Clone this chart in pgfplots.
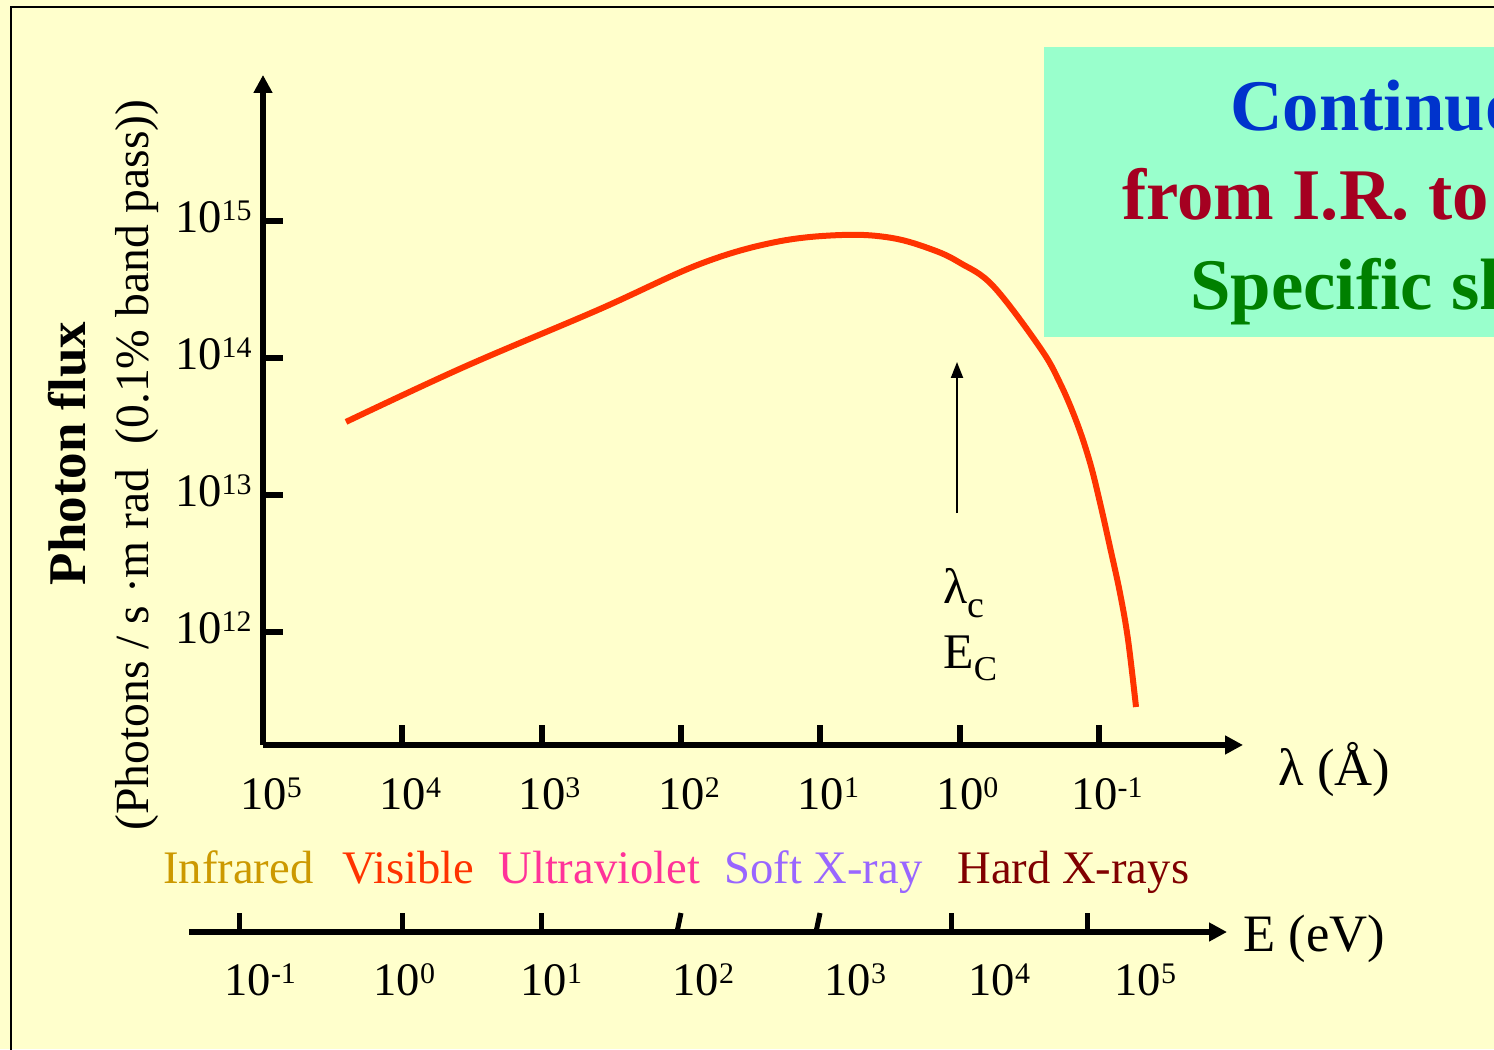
\documentclass[border=0pt]{standalone}
\usepackage{fontspec}
\setmainfont{Liberation Serif}
\usepackage{pgfplots}
\pgfplotsset{compat=1.18}
\usetikzlibrary{arrows.meta}
\definecolor{bgyellow}{HTML}{FFFFCC}
\definecolor{boxgreen}{HTML}{99FFCC}
\definecolor{curvecol}{HTML}{FF3300}
\definecolor{tblue}{HTML}{0033CC}
\definecolor{tred}{HTML}{A50021}
\definecolor{tgreen}{HTML}{008000}
\definecolor{cIR}{HTML}{CC9900}
\definecolor{cVis}{HTML}{FF3300}
\definecolor{cUV}{HTML}{FF3399}
\definecolor{cSoft}{HTML}{9966FF}
\definecolor{cHard}{HTML}{800000}
\newcommand{\supr}[1]{\raisebox{6bp}{\fontsize{15}{15}\selectfont #1}}
\newcommand{\tl}{\fontsize{23.4}{28}\selectfont}
\begin{document}
\begin{tikzpicture}[x=0.5bp,y=0.5bp]
\useasboundingbox (0,0) rectangle (1494,1049);
\clip (0,0) rectangle (1494,1049);
\fill[bgyellow] (0,0) rectangle (1494,1049);
\draw[line width=1.1bp] (11,-5) -- (11,1042) -- (1500,1042);
% title box
\fill[boxgreen] (1044,712) rectangle (1500,1002);
\node[anchor=base west, inner sep=0, text=tblue, font=\bfseries\fontsize{36.5}{40}\selectfont] at (1230,918) {Continuous};
\node[anchor=base west, inner sep=0, text=tred, font=\bfseries\fontsize{36.5}{40}\selectfont] at (1122,829) {from I.R. to X-rays};
\node[anchor=base west, inner sep=0, text=tgreen, font=\bfseries\fontsize{36.5}{40}\selectfont] at (1190,739) {Specific shape};
% main axis
\begin{axis}[
  at={(131.5bp,152bp)}, anchor=south west,
  scale only axis, width=490bp, height=335bp,
  xmode=log, ymode=log, x dir=reverse,
  xmin=0.009226, xmax=1e5, ymin=1.496e11, ymax=1.153e16,
  axis lines=left,
  axis line style={line width=3bp, black},
  x axis line style={{Triangle[length=9bp,width=9bp]}-},
  y axis line style={-{Triangle[length=9bp,width=9bp]}},
  tick style={line width=3bp, black},
  major tick length=10bp, tick align=inside,
  xminorticks=false, yminorticks=false,
  xtick={1e5,1e4,1000,100,10,1,0.1},
  xticklabels={10\supr{5},10\supr{4},10\supr{3},10\supr{2},10\supr{1},10\supr{0},10\supr{-1}},
  ytick={1e12,1e13,1e14,1e15},
  yticklabels={10\supr{12},10\supr{13},10\supr{14},10\supr{15}},
  tick label style={font=\tl, inner sep=0pt},
  xticklabel style={anchor=base, yshift=-32.5bp, xshift=4bp},
  yticklabel style={anchor=base east, xshift=-5.5bp, yshift=-6bp},
]
\addplot[curvecol, line width=3bp, smooth, tension=0.6] coordinates {
(25350, 3.40e13)
(3606, 8.55e13)
(393.6, 2.23e14)
(72.9, 4.82e14)
(20.75, 6.98e14)
(6.86, 7.85e14)
(3.05, 7.46e14)
(1.55, 6.11e14)
(0.991, 4.91e14)
(0.574, 3.33e14)
(0.264, 1.18e14)
(0.190, 6.53e13)
(0.1435, 3.34e13)
(0.1156, 1.71e13)
(0.0980, 8.71e12)
(0.0832, 4.16e12)
(0.0705, 1.92e12)
(0.0617, 8.73e11)
(0.0541, 2.83e11)
};
\end{axis}
% y labels
\node[rotate=90, anchor=base, inner sep=0, font=\bfseries\fontsize{26.6}{30}\selectfont] at (85,595.5) {Photon flux};
\node[rotate=90, anchor=base, inner sep=0, font=\fontsize{23.9}{28}\selectfont] at (148,584) {(Photons / s ·m rad\ \ (0.1\% band pass))};
% lambda_c arrow
\draw[line width=1bp, -{Triangle[length=8bp,width=6bp]}] (957,536) -- (957,687);
\node[anchor=base west, inner sep=0, font=\fontsize{25}{28}\selectfont] at (943,446) {λ\raisebox{-7bp}{\fontsize{19}{19}\selectfont c}};
\node[anchor=base west, inner sep=0, font=\fontsize{25}{28}\selectfont] at (943,381) {E\raisebox{-6bp}{\fontsize{17.5}{18}\selectfont C}};
% axis names
\node[anchor=base west, inner sep=0, font=\fontsize{26.4}{30}\selectfont] at (1278,264) {λ (Å)};
\node[anchor=base west, inner sep=0, font=\fontsize{26.4}{30}\selectfont] at (1243,98) {E (eV)};
% bands
\node[anchor=base west, inner sep=0, font=\tl, text=cIR] at (163,166) {Infrared};
\node[anchor=base west, inner sep=0, font=\tl, text=cVis] at (342,166) {Visible};
\node[anchor=base west, inner sep=0, font=\tl, text=cUV] at (498,166) {Ultraviolet};
\node[anchor=base west, inner sep=0, font=\tl, text=cSoft] at (724,166) {Soft X-ray};
\node[anchor=base west, inner sep=0, font=\tl, text=cHard] at (957,166) {Hard X-rays};
% energy axis
\draw[line width=3bp, -{Triangle[length=9bp,width=9bp]}] (189,117) -- (1227,117);
\foreach \xx in {239,402,541,951,1087} \draw[line width=2.5bp] (\xx,117) -- (\xx,136);
\draw[line width=2.5bp] (677,117) -- (681,136);
\draw[line width=2.5bp] (816,117) -- (820,136);
\node[anchor=base west, inner sep=0, font=\tl] at (224,54) {10\supr{-1}};
\node[anchor=base west, inner sep=0, font=\tl] at (373,54) {10\supr{0}};
\node[anchor=base west, inner sep=0, font=\tl] at (520,54) {10\supr{1}};
\node[anchor=base west, inner sep=0, font=\tl] at (672,54) {10\supr{2}};
\node[anchor=base west, inner sep=0, font=\tl] at (824,54) {10\supr{3}};
\node[anchor=base west, inner sep=0, font=\tl] at (968,54) {10\supr{4}};
\node[anchor=base west, inner sep=0, font=\tl] at (1114,54) {10\supr{5}};
\end{tikzpicture}
\end{document}
